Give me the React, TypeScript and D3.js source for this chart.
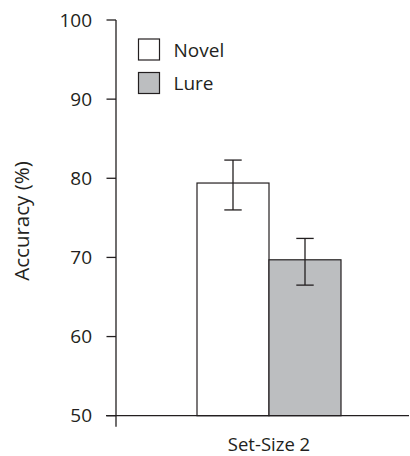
import React from "react";
import * as d3 from "d3";

const categories = ["Set-Size 2"];
const seriesNames = ["Novel", "Lure"];
const seriesFills = ["#ffffff", "#bcbec0"];
const means = [79.4, 69.7];
const upper = [82.3, 72.4];
const lower = [76.0, 66.5];
const yTicks = [50, 60, 70, 80, 90, 100];

const W = 410;
const H = 456;
const font = "'Open Sans', sans-serif";
const ink = "#231f20";

export default function App() {
  const y = d3.scaleLinear().domain([50, 100]).range([415.7, 20]);
  const groupCenter = 269;
  const barW = 72;
  const x1 = d3
    .scaleBand()
    .domain(seriesNames)
    .range([groupCenter - barW, groupCenter + barW]);

  return (
    <svg
      width={W}
      height={H}
      style={{ position: "absolute", left: 0, top: 0, background: "#fff" }}
    >
      {/* bars */}
      {seriesNames.map((s, i) => (
        <rect
          key={s}
          x={x1(s)!}
          y={y(means[i])}
          width={x1.bandwidth()}
          height={y(50) - y(means[i])}
          fill={seriesFills[i]}
          stroke={ink}
          strokeWidth={1.2}
        />
      ))}
      {/* error bars */}
      {seriesNames.map((s, i) => {
        const cx = x1(s)! + x1.bandwidth() / 2;
        return (
          <g key={s + "err"} stroke={ink} strokeWidth={1.3}>
            <line x1={cx} x2={cx} y1={y(upper[i])} y2={y(lower[i])} />
            <line x1={cx - 8.7} x2={cx + 8.7} y1={y(upper[i])} y2={y(upper[i])} />
            <line x1={cx - 8.7} x2={cx + 8.7} y1={y(lower[i])} y2={y(lower[i])} />
          </g>
        );
      })}
      {/* y axis */}
      <line x1={116} x2={116} y1={y(100)} y2={426.7} stroke={ink} strokeWidth={1.3} />
      {yTicks.map((t) => (
        <g key={t}>
          <line x1={106.5} x2={116} y1={y(t)} y2={y(t)} stroke={ink} strokeWidth={1.3} />
          <text
            x={92}
            y={y(t)}
            dy="0.35em"
            textAnchor="end"
            fontFamily={font}
            fontSize={19}
            fill={ink}
          >
            {t}
          </text>
        </g>
      ))}
      {/* x axis */}
      <line x1={106} x2={409} y1={y(50)} y2={y(50)} stroke={ink} strokeWidth={1.3} />
      {categories.map((c) => (
        <text
          key={c}
          x={groupCenter}
          y={451}
          textAnchor="middle"
          fontFamily={font}
          fontSize={18.5}
          fill={ink}
        >
          {c}
        </text>
      ))}
      {/* y label */}
      <text
        transform={`translate(29,221) rotate(-90)`}
        textAnchor="middle"
        fontFamily={font}
        fontSize={20.5}
        fill={ink}
      >
        Accuracy (%)
      </text>
      {/* legend */}
      {seriesNames.map((s, i) => (
        <g key={s + "leg"} transform={`translate(138.5,${39 + i * 33.5})`}>
          <rect width={21} height={21} fill={seriesFills[i]} stroke={ink} strokeWidth={1.2} />
          <text x={35} y={17.5} fontFamily={font} fontSize={19} fill={ink}>
            {s}
          </text>
        </g>
      ))}
    </svg>
  );
}
